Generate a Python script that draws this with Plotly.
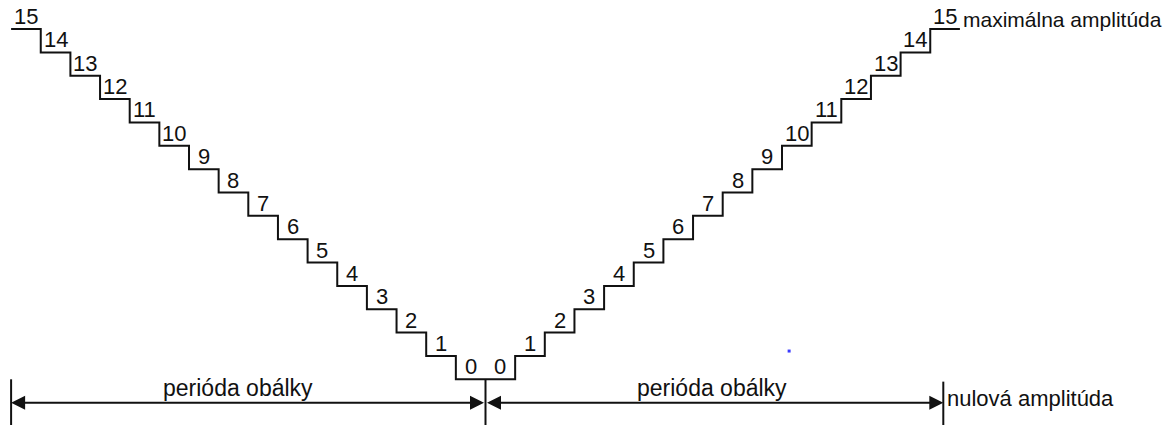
import plotly.graph_objects as go

# ---- data ----
levels = list(range(16))                 # amplitude steps 0..15
period_bounds = [-16, 0, 15.44]          # start, middle, end of the two envelope periods (in step units)
tick_tops = [0, 0, -0.1]                 # top of the vertical period markers (level units)
period_labels = ["perióda obálky", "perióda obálky"]
period_label_x = [-8.35, 7.65]
max_label = "maximálna amplitúda"
zero_label = "nulová amplitúda"
arrow_level = -1
stray_dot_x = [10.24]
stray_dot_y = [1.21]

# ---- geometry of the canvas ----
W, H = 1172, 425
step_px = 29.65
center_px = 485.5
level_px = 23.35
zero_px = 379.3
x_range = [-center_px / step_px, (W - center_px) / step_px]
y_range = [(zero_px - H) / level_px, zero_px / level_px]

FONT = "Liberation Sans, Arial, sans-serif"
INK = "#111111"

# staircase: left side descends 15..0, right side ascends 0..15
sx, sy = [], []
for k in levels[::-1]:
    sx += [-(k + 1), -k]
    sy += [k, k]
for k in levels:
    sx += [k, k + 1]
    sy += [k, k]

fig = go.Figure()
fig.add_trace(go.Scatter(x=sx, y=sy, mode="lines",
                         line=dict(color=INK, width=2), hoverinfo="skip"))

# vertical period markers
tx, ty = [], []
for xb, yt in zip(period_bounds, tick_tops):
    tx += [xb, xb, None]
    ty += [yt, y_range[0] - 1, None]
fig.add_trace(go.Scatter(x=tx, y=ty, mode="lines",
                         line=dict(color=INK, width=2), hoverinfo="skip"))

fig.add_trace(go.Scatter(x=stray_dot_x, y=stray_dot_y, mode="markers",
                         marker=dict(color="#3b3bff", size=3, symbol="square"),
                         hoverinfo="skip"))

ann = []
# step numbers
for k in levels:
    for xc in (-(k + 0.5), k + 0.5):
        ann.append(dict(x=xc, y=k, xref="x", yref="y", text=str(k), showarrow=False,
                        xanchor="center", yanchor="bottom", yshift=-1, borderpad=0,
                        font=dict(family=FONT, size=22, color=INK)))

# double-headed period arrows
for a, b in [(period_bounds[0], period_bounds[1]), (period_bounds[2], period_bounds[1])]:
    ann.append(dict(x=a, y=arrow_level, ax=b, ay=arrow_level, xref="x", yref="y",
                    axref="x", ayref="y", text="", showarrow=True,
                    arrowside="end+start", arrowhead=2, startarrowhead=2,
                    arrowsize=1.4, startarrowsize=1.4, arrowwidth=2,
                    arrowcolor=INK, standoff=0, startstandoff=0))

for lx, lt in zip(period_label_x, period_labels):
    ann.append(dict(x=lx, y=arrow_level, xref="x", yref="y", text=lt, showarrow=False,
                    xanchor="center", yanchor="bottom", yshift=0,
                    font=dict(family=FONT, size=23, color=INK)))

ann.append(dict(x=levels[-1] + 1, y=levels[-1], xref="x", yref="y", text=max_label,
                showarrow=False, xanchor="left", yanchor="bottom", xshift=2, yshift=-3,
                borderpad=0, font=dict(family=FONT, size=21, color=INK)))
ann.append(dict(x=period_bounds[2], y=arrow_level, xref="x", yref="y", text=zero_label,
                showarrow=False, xanchor="left", yanchor="middle", xshift=2, yshift=4,
                font=dict(family=FONT, size=22, color=INK)))

fig.update_layout(
    width=W, height=H, margin=dict(l=0, r=0, t=0, b=0),
    paper_bgcolor="white", plot_bgcolor="white", showlegend=False,
    xaxis=dict(range=x_range, visible=False, fixedrange=True),
    yaxis=dict(range=y_range, visible=False, fixedrange=True),
    annotations=ann,
)

fig.write_html("out.html", config={"displayModeBar": False},
               post_script="document.body.style.margin='0';document.body.style.overflow='hidden';")
